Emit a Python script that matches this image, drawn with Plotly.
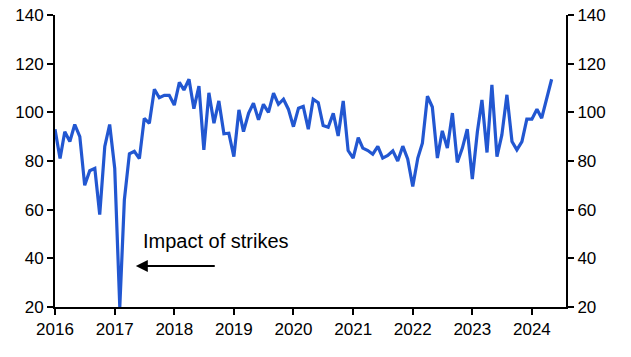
import plotly.graph_objects as go
import pandas as pd

start = "2016-01-01"
values = [
    93, 81, 92, 88, 95, 90, 70, 76, 77, 58, 86, 95,
    77, 20, 64, 83, 84, 81, 97.5, 95.5, 109.5, 106, 107, 107,
    103, 112.3, 109.2, 113.6, 101.5, 110.8, 84.6, 108, 95.5, 104.7, 91.2, 91.4,
    81.8, 101, 92.1, 99.6, 103.8, 96.9, 103.3, 100, 107.9, 103.3, 105.4, 101.3,
    94.1, 101.7, 102.4, 93.1, 105.4, 104, 94.6, 93.9, 99.6, 90.3, 104.7, 84.3,
    81.2, 89.6, 85.3, 84.3, 82.8, 86, 81.2, 82.3, 84.2, 80, 86.1, 80.8,
    69.5, 81.2, 87.3, 106.6, 102.2, 81.2, 92.4, 85.3, 99.7, 79.4, 85.3, 93.1,
    72.6, 92, 105.1, 83.5, 111.3, 81.8, 90.7, 107.2, 88, 84.6, 88, 97.2,
    97.2, 101.3, 97.6, 105.4, 113.6,
]
dates = pd.date_range(start, periods=len(values), freq="MS")

year_ticks = [f"{y}-01-01" for y in range(2016, 2025)]
year_labels = [str(y) for y in range(2016, 2025)]
y_ticks = [20, 40, 60, 80, 100, 120, 140]

annot_text = "Impact of strikes"
annot_text_pos = ("2017-06-10", 47)
arrow_tail = ("2018-09-15", 36.8)
arrow_head = ("2017-05-10", 36.8)

FONT = "Liberation Sans, Arial, sans-serif"
LINE = "#2257d1"

fig = go.Figure()
fig.add_trace(go.Scatter(x=dates, y=values, mode="lines",
                         line=dict(color=LINE, width=3.2), showlegend=False))
fig.add_trace(go.Scatter(x=[dates[0]], y=[values[0]], yaxis="y2", mode="lines",
                         line=dict(width=0), showlegend=False, hoverinfo="skip"))

axis_common = dict(showgrid=False, zeroline=False, showline=True, linecolor="black",
                   linewidth=2, ticks="outside", tickcolor="black", ticklen=6, tickwidth=2,
                   automargin=False, ticklabeloverflow="allow",
                   tickfont=dict(family=FONT, size=17, color="black"))

fig.update_layout(
    width=631, height=357,
    margin=dict(l=55, r=65, t=15, b=50),
    paper_bgcolor="white", plot_bgcolor="white",
    xaxis=dict(range=["2016-01-01", "2024-07-28"], tickvals=year_ticks, ticktext=year_labels,
               **axis_common),
    yaxis=dict(range=[20, 140], tickvals=y_ticks, **axis_common),
    yaxis2=dict(range=[20, 140], tickvals=y_ticks, overlaying="y", side="right",
                **axis_common),
    annotations=[
        dict(x=annot_text_pos[0], y=annot_text_pos[1], xref="x", yref="y",
             text=annot_text, showarrow=False, xanchor="left", yanchor="middle",
             font=dict(family=FONT, size=20, color="black")),
        dict(x=arrow_head[0], y=arrow_head[1], ax=arrow_tail[0], ay=arrow_tail[1],
             xref="x", yref="y", axref="x", ayref="y", text="", showarrow=True,
             arrowhead=2, arrowsize=1.2, arrowwidth=2, arrowcolor="black"),
    ],
)

fig.write_html("out.html", config={"displayModeBar": False},
               post_script="document.body.style.margin='0';document.body.style.overflow='hidden';")
